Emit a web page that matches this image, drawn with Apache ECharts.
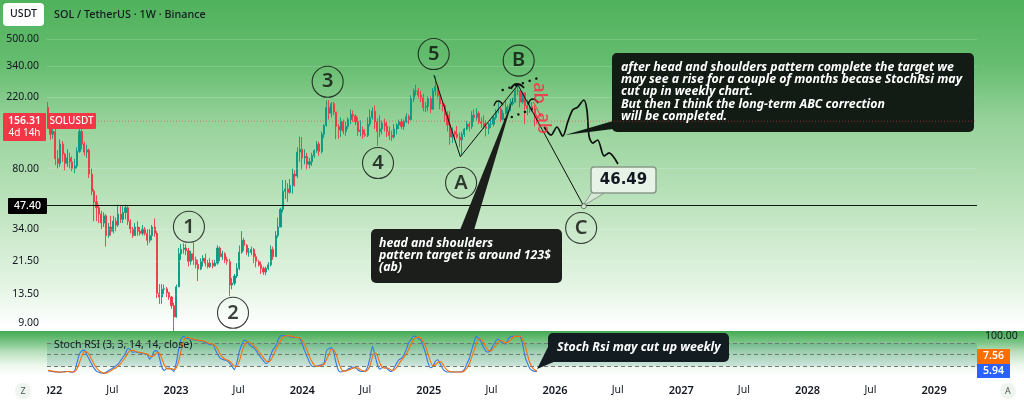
<!DOCTYPE html>
<html style="width:100%;height:100%;">

<head>
    <meta charset="utf-8">
    <title>SOL / TetherUS weekly</title>
    <script src="https://cdn.jsdelivr.net/npm/echarts@6/dist/echarts.min.js"></script>
    <style>
        html, body { margin: 0; padding: 0; background: #ffffff; }
        #chart { width: 1024px; height: 402px; }
    </style>
</head>

<body>
    <div id="chart"></div>
    <script>
        // weekly candles, first one is the week of 27 Dec 2021
        const firstWeek = Date.UTC(2021, 11, 27);
        const firstOpen = 190;
        const closes = [
            152,130,135,92,86,113,98,86,93,88,
            80,83,102,135,113,101,104,74,58,50,
            46,42,37,41,31,35,33,38,36,42,
            39,43,46,38,34,31,35,33,32,34,
            32,29,31,35,32,13.7,13,14.5,14.6,13.8,
            13,11.5,9.8,15,24,25.5,26,25,21.5,24,
            22,20.6,19.3,21.5,22.5,21,20,21,20.2,21,
            26,23,24,22,21.5,15.4,15.8,17.5,19.5,24.5,
            29,27,24.5,24.5,25.5,23,21.5,20.5,19.5,18.5,
            19.5,20.5,25.5,23,31,35,45,58,60,57,
            63,74,72,101,105,93,95,85,88,96,
            103,113,102,130,147,190,175,200,178,145,
            138,155,135,145,160,172,168,155,135,138,
            130,128,150,165,180,155,135,140,152,146,
            135,128,125,140,148,155,145,155,167,160,
            215,240,240,226,218,190,193,215,185,240,
            255,225,200,195,170,148,125,135,130,125,
            120,130,140,150,145,170,165,175,155,152,
            145,141,150,150,165,180,185,160,175,190,
            190,200,205,240,240,205,233,195,187,192,
            187,167,156.31
        ];
        const highs = [
            205,155,150,140,104,121,118,100,105,100,
            95,92,108,143,142,117,112,106,80,60,
            55,48,44,43,42,37,41,41,40,48,
            47,47,48,47,39,35,37,38,35,36,
            35,34,34,36,39.5,33,15.6,15.6,15.5,15,
            14,13.2,12,15.5,26,27.5,27.8,27.5,26,25,
            28,23,22,22.5,23.5,24,22,22.5,22,22,
            27,26.5,25,24.5,23,22.3,17,18,21,27,
            33,30,27.5,26,26.5,26,24,22,21.5,20,
            20,21.3,27,26.5,33,40,46,68,68,65,
            69,80,78,108,126,125,105,100,93,100,
            105,118,117,135,150,210,210,205,205,178,
            150,165,160,155,165,185,182,172,165,158,
            145,140,165,185,190,195,163,170,158,162,
            155,145,137,150,152,160,162,160,175,172,
            225,248,262,250,240,230,205,222,222,250,
            295,262,230,205,200,180,180,143,137,146,
            133,135,142,157,155,180,185,188,180,165,
            170,158,153,160,168,185,206,190,183,209,
            197,215,218,248,262,241,238,235,212,205,
            205,195,172
        ];
        const lows = [
            145,120,122,84,80,82,88,78,82,80,
            77,75,80,100,105,96,93,70,55,38,
            38,37,34,35,26.5,30,31,32,33,35,
            37,37,39,36,32,30,31,31,31,31,
            31,27,28,29,30.5,12.8,11.8,11.8,13.5,13,
            12.5,11,8,9.7,15,22,24,23.5,20,20.5,
            20.5,19.5,16.3,19,20,20,19.5,19.6,19.5,20,
            20.5,21.5,22,21,20.5,13.2,14.5,15.3,17,19,
            24,25,23.5,23,23.5,21,19.8,20,18,17.8,
            17.7,19,20,22,23,30,35,43,52,50,
            56,56,62,70,88,79,85,79,80,83,
            93,100,96,99,123,145,160,165,170,121,
            122,125,130,127,140,150,155,148,127,126,
            122,125,125,145,160,140,110,125,130,135,
            125,120,118,122,130,140,140,138,152,150,
            158,205,225,215,205,180,178,180,175,185,
            225,215,185,180,155,135,112,115,120,122,
            108,96,125,137,135,140,155,158,150,142,
            140,126,130,142,145,160,175,155,158,172,
            172,180,195,204,226,190,200,150,170,176,
            178,145,150
        ];

        // Stoch RSI, same weeks
        const stochK = [
            8,7,6,5,5,4,5,6,6,5,
            4,8,30,52,60,62,50,38,26,15,
            7,4,2,1,4,9,12,16,21,26,
            35,44,54,67,63,56,58,56,55,53,
            52,50,38,48,60,60,42,18,9,14,
            15,12,6,30,65,92,98,94,92,91,
            89,88,87,86,84,81,79,76,78,64,
            52,42,38,36,34,28,20,11,30,58,
            76,88,86,78,72,68,60,50,42,34,
            27,31,50,64,72,88,99,100,100,100,
            97,96,95,95,92,78,60,45,30,20,
            19,20,22,24,28,60,66,68,56,28,
            8,5,8,8,13,15,18,16,10,7,
            6,7,18,42,72,50,25,12,16,18,
            14,8,6,16,28,37,41,50,64,81,
            90,99,97,92,88,72,52,28,16,20,
            33,37,26,14,7,5,5,5,5,5,
            5,6,12,26,40,62,84,98,92,82,
            68,58,57,64,76,86,91,84,80,78,
            90,97,98,98,98,97,78,46,28,14,
            9,7,5.94
        ];
        const stochD = [
            9,8,7,6,5,5,5,5,6,6,
            5,6,14,30,47,58,57,50,38,26,
            16,9,4,2,2,5,8,12,16,21,
            27,35,44,55,61,62,59,57,56,55,
            53,52,47,45,49,56,54,40,23,14,
            13,14,11,16,34,62,85,95,95,92,
            91,89,88,87,86,84,81,79,78,73,
            65,53,44,39,36,33,27,20,20,33,
            55,74,83,84,79,73,67,59,51,42,
            34,31,36,48,62,75,86,96,99,100,
            99,98,96,95,94,88,77,61,45,32,
            23,20,20,22,25,37,51,65,63,51,
            31,14,7,7,10,12,15,16,15,11,
            8,7,10,22,44,55,49,29,18,15,
            16,13,9,10,17,27,35,43,52,65,
            78,90,95,96,93,84,71,51,32,21,
            23,30,32,26,16,9,6,5,5,5,
            5,5,8,15,26,43,62,81,91,91,
            81,69,61,60,66,75,84,87,85,81,
            83,88,95,98,98,98,91,74,51,29,
            17,10,7.56
        ];

        const priceTicks = [500, 340, 220, 80, 34, 21.5, 13.5, 9];
        const timeTicks = ['2022-01-01', '2022-07-01', '2023-01-01', '2023-07-01', '2024-01-01', '2024-07-01',
            '2025-01-01', '2025-07-01', '2026-01-01', '2026-07-01', '2027-01-01', '2027-07-01',
            '2028-01-01', '2028-07-01', '2029-01-01'];
        const stochLevels = [80, 50, 20];

        // drawings, as [week number, price]
        const waveLine = [[159.4, 300], [170.3, 94.6], [194.1, 261], [221.3, 47]];
        const forecastPath = [[204.9, 144], [207.8, 128.5], [210.2, 144], [212.6, 126.7], [214.7, 155], [216.7, 183],
            [218.8, 191], [221.3, 211], [222.6, 183], [223.5, 125.5], [225, 114.8], [227, 119.8],
            [229.7, 95.6], [231.7, 100], [235.4, 85.3]];
        const leftArc = [[184.2, 194], [185.9, 208], [187.9, 196]];
        const headArc = [[191.2, 246.6], [193.7, 264.6], [196.6, 250]];
        const rightArc = [[198.3, 199.6], [200.3, 214], [202.4, 202]];
        const channelTop = [[187.8, 243], [203.9, 293]];
        const channelBottom = [[188.8, 160], [200.3, 186]];
        const waveLabels = [['1', 58.2, 35.1], ['2', 76.4, 10.4], ['3', 115.5, 273], ['4', 136.3, 86.5],
            ['5', 159.3, 404], ['A', 170.6, 65.4], ['B', 194.4, 368], ['C', 220.2, 34.5]];
        const abLabels = [[202.8, 233], [204.3, 152]];
        const abTick = [[200.5, 205], [203.8, 165]];
        const targetPoint = [221.3, 47];

        const lastPrice = 156.31;
        const levelPrice = 47.40;

        const DAY = 86400000;
        const xMin = Date.UTC(2021, 11, 24);
        const xMax = Date.UTC(2029, 4, 5);
        const week = i => firstWeek + i * 7 * DAY;
        const toPoints = list => list.map(p => [week(p[0]), p[1]]);

        const candles = closes.map((c, i) => [week(i), i ? closes[i - 1] : firstOpen, c, lows[i], highs[i]]);
        const stochKData = stochK.map((v, i) => [week(i), v]);
        const stochDData = stochD.map((v, i) => [week(i), v]);

        const UP = '#089981';
        const DOWN = '#f23645';
        const INK = '#131722';
        const AXIS_FAMILY = '"Noto Sans", sans-serif';
        const AXIS_FONT = AXIS_FAMILY;
        const NOTE_FONT = 'italic bold 12.3px "Noto Sans", sans-serif';

        function drawing(data, width, extra) {
            return Object.assign({
                type: 'line', data: toPoints(data), symbol: 'none', silent: true, z: 5,
                lineStyle: { color: '#0c0f0c', width: width }
            }, extra || {});
        }

        function noteText(x, y, text) {
            return { type: 'text', z: 12, x: x, y: y, style: { text: text, font: NOTE_FONT, fill: '#ffffff', lineHeight: 12.3 } };
        }

        const graphics = [
            // hide the part of the 2022 label that runs under the price scale
            { type: 'rect', z: 11, shape: { x: 0, y: 378, width: 47, height: 24 }, style: { fill: '#ffffff' } },
            { type: 'circle', z: 12, shape: { cx: 23, cy: 391, r: 8 }, style: { fill: '#eef5f0' } },
            { type: 'text', z: 13, x: 23, y: 391, style: { text: 'Z', font: '9px ' + AXIS_FONT, fill: '#555', align: 'center', verticalAlign: 'middle' } },
            { type: 'circle', z: 12, shape: { cx: 1008, cy: 391, r: 8 }, style: { fill: '#eef5f0' } },
            { type: 'text', z: 13, x: 1008, y: 391, style: { text: 'A', font: '9px ' + AXIS_FONT, fill: '#555', align: 'center', verticalAlign: 'middle' } },

            { type: 'rect', z: 12, shape: { x: 3, y: 3, width: 41, height: 23, r: 4 }, style: { fill: '#ffffff' } },
            { type: 'text', z: 13, x: 23.5, y: 14.5, style: { text: 'USDT', font: '500 10.5px ' + AXIS_FONT, fill: INK, align: 'center', verticalAlign: 'middle' } },
            { type: 'text', z: 13, x: 54, y: 14.5, style: { text: 'SOL / TetherUS · 1W · Binance', font: '500 10.8px ' + AXIS_FONT, fill: INK, verticalAlign: 'middle' } },

            // price badges
            { type: 'rect', z: 12, shape: { x: 3, y: 113, width: 43, height: 28, r: 1 }, style: { fill: DOWN } },
            { type: 'text', z: 13, x: 24.5, y: 121, style: { text: '156.31', font: '600 10.5px ' + AXIS_FONT, fill: '#fff', align: 'center', verticalAlign: 'middle' } },
            { type: 'text', z: 13, x: 24.5, y: 133.5, style: { text: '4d 14h', font: '10px ' + AXIS_FONT, fill: '#fff', align: 'center', verticalAlign: 'middle' } },
            { type: 'rect', z: 12, shape: { x: 47, y: 113, width: 49, height: 16, r: 1 }, style: { fill: DOWN } },
            { type: 'text', z: 13, x: 71.5, y: 121, style: { text: 'SOLUSDT', font: '500 10px ' + AXIS_FONT, fill: '#fff', align: 'center', verticalAlign: 'middle' } },
            { type: 'rect', z: 12, shape: { x: 8, y: 198, width: 39, height: 16, r: 1 }, style: { fill: '#000' } },
            { type: 'text', z: 13, x: 27.5, y: 206, style: { text: '47.40', font: '500 10.5px ' + AXIS_FONT, fill: '#fff', align: 'center', verticalAlign: 'middle' } },

            // long note on the right
            { type: 'polygon', z: 11, shape: { points: [[565, 135], [613, 121], [613, 129]] }, style: { fill: '#131c14' } },
            { type: 'rect', z: 11, shape: { x: 612, y: 53, width: 362, height: 79, r: 5 }, style: { fill: '#131c14' } },
            noteText(621, 61, 'after head and shoulders pattern complete the target we\nmay see a rise for a couple of months becase StochRsi may\ncut up in weekly chart.\nBut then I think the long-term ABC correction\nwill be completed.'),

            // head and shoulders note
            { type: 'polygon', z: 11, shape: { points: [[460, 230], [474, 230], [514, 96]] }, style: { fill: '#1b1e1b' } },
            { type: 'rect', z: 11, shape: { x: 371, y: 229, width: 191, height: 54, r: 5 }, style: { fill: '#1b1e1b' } },
            noteText(379, 237, 'head and shoulders\npattern target is around 123$\n(ab)'),

            // target price box
            { type: 'polygon', z: 10, shape: { points: [[592, 192], [606, 192], [583, 206]] }, style: { fill: '#d5e8d5', stroke: '#8a9a8a', lineWidth: 1 } },
            { type: 'rect', z: 11, shape: { x: 591, y: 167, width: 65, height: 26, r: 3 }, style: { fill: '#e6f3e6', stroke: '#8a9a8a', lineWidth: 1.5 } },
            { type: 'text', z: 12, x: 623.5, y: 180.5, style: { text: '46.49', font: 'bold 15px "DejaVu Sans", sans-serif', fill: '#131722', align: 'center', verticalAlign: 'middle' } },

            // stoch note
            { type: 'polygon', z: 11, shape: { points: [[537, 369], [549, 345], [556, 361]] }, style: { fill: '#131c20' } },
            { type: 'rect', z: 11, shape: { x: 548, y: 333, width: 181, height: 29, r: 5 }, style: { fill: '#131c20' } },
            { type: 'text', z: 12, x: 557, y: 347, style: { text: 'Stoch Rsi may cut up weekly', font: NOTE_FONT, fill: '#ffffff', verticalAlign: 'middle' } },

            { type: 'text', z: 12, x: 54, y: 345, style: { text: 'Stoch RSI (3, 3, 14, 14, close)', font: '10.5px ' + AXIS_FONT, fill: INK, verticalAlign: 'middle' } },

            { type: 'rect', z: 12, shape: { x: 977, y: 349, width: 33, height: 15 }, style: { fill: '#ff6d00' } },
            { type: 'text', z: 13, x: 993.5, y: 356.5, style: { text: '7.56', font: '600 10.5px ' + AXIS_FONT, fill: '#fff', align: 'center', verticalAlign: 'middle' } },
            { type: 'rect', z: 12, shape: { x: 977, y: 364, width: 33, height: 14 }, style: { fill: '#2962ff' } },
            { type: 'text', z: 13, x: 993.5, y: 371, style: { text: '5.94', font: '600 10.5px ' + AXIS_FONT, fill: '#fff', align: 'center', verticalAlign: 'middle' } }
        ];

        const chart = echarts.init(document.getElementById('chart'), null, { renderer: 'canvas' });

        const option = {
            animation: false,
            backgroundColor: {
                type: 'linear', x: 0, y: 0, x2: 0, y2: 1,
                colorStops: [
                    { offset: 0, color: '#50b25c' },
                    { offset: 0.16, color: '#66bd70' },
                    { offset: 0.3, color: '#96d29a' },
                    { offset: 0.52, color: '#bfe4bf' },
                    { offset: 0.72, color: '#e6f5e6' },
                    { offset: 0.81, color: '#ffffff' },
                    { offset: 0.823, color: '#ffffff' },
                    { offset: 0.824, color: '#46aa54' },
                    { offset: 0.85, color: '#78c384' },
                    { offset: 0.875, color: '#b8e0bc' },
                    { offset: 0.91, color: '#eef8ee' },
                    { offset: 0.935, color: '#ffffff' },
                    { offset: 1, color: '#ffffff' }
                ]
            },
            grid: [
                { left: 47, right: 47, top: 0, height: 331 },
                { left: 47, right: 47, top: 331, height: 44 }
            ],
            xAxis: [
                { type: 'value', gridIndex: 0, min: xMin, max: xMax, show: false, scale: true },
                {
                    type: 'value', gridIndex: 1, min: xMin, max: xMax, scale: true,
                    axisLine: { show: false }, axisTick: { show: false }, splitLine: { show: false },
                    axisLabel: {
                        customValues: timeTicks.map(d => Date.parse(d)),
                        margin: 10, hideOverlap: false, showMinLabel: true,
                        formatter: v => {
                            const d = new Date(v);
                            return d.getUTCMonth() === 0 ? '{y|' + d.getUTCFullYear() + '}' : '{m|Jul}';
                        },
                        rich: {
                            y: { fontSize: 11, fontWeight: 600, fontFamily: AXIS_FAMILY, color: INK },
                            m: { fontSize: 10.5, fontFamily: AXIS_FAMILY, color: INK }
                        }
                    }
                }
            ],
            yAxis: [
                {
                    type: 'log', gridIndex: 0, logBase: 10, min: 8.04, max: 868,
                    axisLine: { show: false }, axisTick: { show: false }, minorTick: { show: false },
                    splitLine: { show: false },
                    axisLabel: {
                        customValues: priceTicks, margin: 8, color: INK, fontSize: 10.5, fontFamily: AXIS_FAMILY,
                        formatter: v => Number(v).toFixed(2)
                    }
                },
                {
                    type: 'value', gridIndex: 1, min: -3, max: 112, position: 'right',
                    axisLine: { show: false }, axisTick: { show: false }, splitLine: { show: false },
                    axisLabel: {
                        customValues: [100], margin: 8, color: INK, fontSize: 10.5, fontFamily: AXIS_FAMILY,
                        formatter: v => Number(v).toFixed(2)
                    }
                }
            ],
            series: [
                {
                    type: 'candlestick', data: candles, barWidth: 1.6, silent: true, z: 3,
                    encode: { x: 0, y: [1, 2, 3, 4] },
                    itemStyle: { color: UP, color0: DOWN, borderColor: UP, borderColor0: DOWN, borderWidth: 0.9 },
                    markLine: {
                        silent: true, symbol: 'none', animation: false,
                        label: { show: false },
                        data: [
                            { yAxis: levelPrice, lineStyle: { color: '#10190f', width: 1, type: 'solid' } }
                        ].concat(priceTicks.map(v => ({ yAxis: v, lineStyle: { color: 'rgba(255,255,255,0.16)', width: 1, type: 'solid' } })))
                    }
                },
                {
                    type: 'line', silent: true, symbol: 'none', z: 20,
                    data: [[xMin, lastPrice], [xMax, lastPrice]],
                    lineStyle: { color: DOWN, width: 0.7, type: [1, 2], opacity: 0.8 }
                },
                drawing(waveLine, 1),
                drawing(forecastPath, 1.7, { smooth: 0.3 }),
                drawing(leftArc, 1.3, { smooth: 0.6 }),
                drawing(headArc, 1.8, { smooth: 0.6 }),
                drawing(rightArc, 1.3, { smooth: 0.6 }),
                drawing(channelTop, 2.4, { lineStyle: { color: '#0c0f0c', width: 2.4, type: [0.1, 7], cap: 'round' } }),
                drawing(channelBottom, 2.4, { lineStyle: { color: '#0c0f0c', width: 2.4, type: [0.1, 7], cap: 'round' } }),
                drawing(abTick, 1, { lineStyle: { color: DOWN, width: 1 } }),
                {
                    type: 'scatter', silent: true, z: 6, symbol: 'circle', symbolSize: 31,
                    data: waveLabels.map(p => ({ value: [week(p[1]), p[2]], name: p[0] })),
                    itemStyle: { color: 'rgba(0,0,0,0)', borderColor: '#0c0f0c', borderWidth: 1.1 },
                    label: { show: true, position: 'inside', formatter: '{b}', color: '#0c0f0c', fontSize: 20, fontWeight: 600, fontFamily: AXIS_FAMILY }
                },
                {
                    type: 'scatter', silent: true, z: 6, symbolSize: 1,
                    data: toPoints(abLabels),
                    itemStyle: { color: 'rgba(0,0,0,0)' },
                    label: { show: true, position: 'inside', formatter: 'ab', rotate: -90, color: '#ff2440', fontSize: 18, fontWeight: 500, fontFamily: AXIS_FAMILY }
                },
                {
                    type: 'scatter', silent: true, z: 13, symbolSize: 5,
                    data: toPoints([targetPoint]),
                    itemStyle: { color: '#e6f3e6', borderColor: '#4a5a4a', borderWidth: 1 }
                },
                {
                    type: 'line', xAxisIndex: 1, yAxisIndex: 1, data: stochKData, symbol: 'none', silent: true, z: 4,
                    lineStyle: { color: '#2f77ef', width: 1.1 }, smooth: 0.2,
                    markArea: {
                        silent: true,
                        itemStyle: { color: 'rgba(25,120,120,0.16)' },
                        data: [[{ yAxis: 80 }, { yAxis: 20 }]]
                    },
                    markLine: {
                        silent: true, symbol: 'none', label: { show: false },
                        lineStyle: { color: '#6f7a78', width: 1, type: [4, 3] },
                        data: stochLevels.map(v => ({ yAxis: v }))
                    }
                },
                {
                    type: 'line', xAxisIndex: 1, yAxisIndex: 1, data: stochDData, symbol: 'none', silent: true, z: 5,
                    lineStyle: { color: '#ff6d00', width: 1.1 }, smooth: 0.2
                }
            ],
            graphic: graphics
        };

        chart.setOption(option);
    </script>
</body>

</html>
